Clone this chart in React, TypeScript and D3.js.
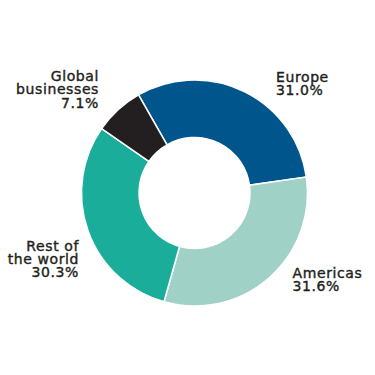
import React from "react";
import * as d3 from "d3";

const regions = ["Europe", "Americas", "Rest of the world", "Global businesses"];
const shares = [31.0, 31.6, 30.3, 7.1];
const labelLines = [["Europe"], ["Americas"], ["Rest of", "the world"], ["Global", "businesses"]];
const colors = ["#00568c", "#9fd1c7", "#1aae9a", "#231f20"];

const W = 375;
const H = 375;
const cx = 194.5;
const cy = 193;
const outerR = 113;
const innerR = 55.5;
const lineH = 13.4;

// label anchors (x, y of first baseline, text-anchor)
const labelPos: Array<[number, number, string]> = [
  [276, 81.5, "start"],
  [292.5, 277.5, "start"],
  [79, 250.5, "end"],
  [99, 81, "end"],
];

const App: React.FC = () => {
  const start = (-29.7 * Math.PI) / 180;
  const pie = d3
    .pie<number>()
    .sort(null)
    .value((d) => d)
    .startAngle(start)
    .endAngle(start + 2 * Math.PI);
  const arcs = pie(shares);
  const arc = d3.arc<d3.PieArcDatum<number>>().innerRadius(innerR).outerRadius(outerR);

  return (
    <div style={{ position: "fixed", left: 0, top: 0, width: W, height: H, background: "#fff" }}>
      <svg width={W} height={H} style={{ display: "block" }}>
        <g transform={`translate(${cx},${cy})`}>
          {arcs.map((a, i) => (
            <path key={regions[i]} d={arc(a) || ""} fill={colors[i]} stroke="#fff" strokeWidth={1.5} />
          ))}
        </g>
        {regions.map((r, i) => {
          const [x, y, anchor] = labelPos[i];
          const lines = [...labelLines[i], `${shares[i].toFixed(1)}%`];
          return (
            <g key={r}>
              {lines.map((l, j) => (
                <text
                  key={j}
                  x={x}
                  y={y + j * lineH}
                  textAnchor={anchor as any}
                  fontFamily="'DejaVu Sans', sans-serif"
                  fontSize={14}
                  letterSpacing={0.6}
                  fill="#231f20"
                  stroke="#231f20"
                  strokeWidth={0.4}
                >
                  {l}
                </text>
              ))}
            </g>
          );
        })}
      </svg>
    </div>
  );
};

export default App;
